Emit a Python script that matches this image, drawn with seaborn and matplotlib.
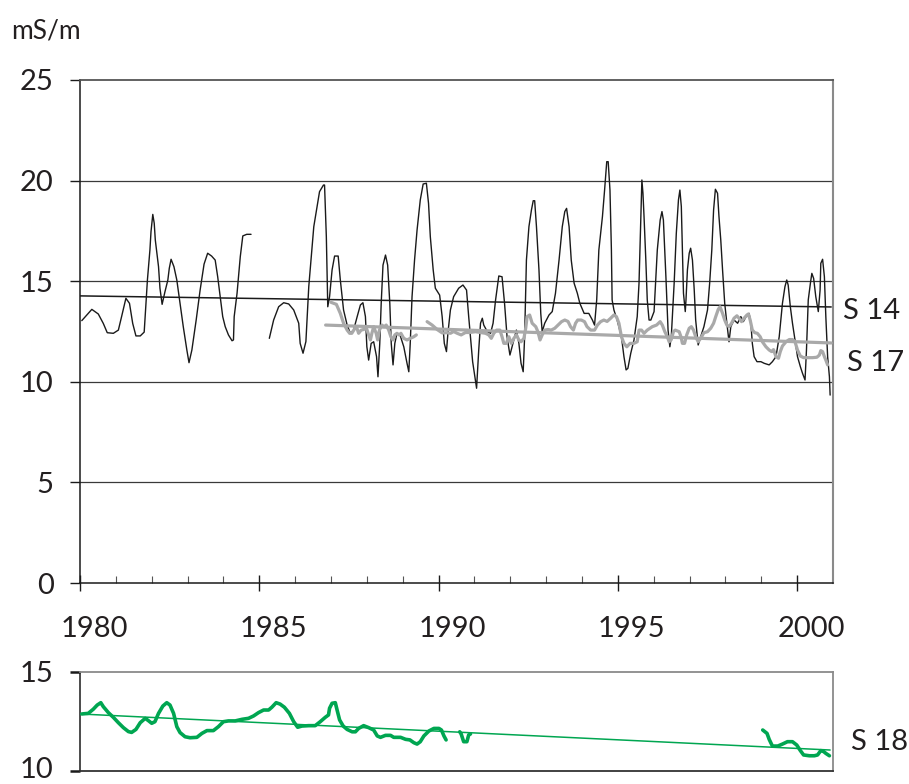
import numpy as np
import pandas as pd
import matplotlib
matplotlib.use("Agg")
import matplotlib.pyplot as plt
import matplotlib.transforms as mtransforms
import seaborn as sns

# ---------------------------------------------------------------- data
# S 14 (monthly conductivity, mS/m), two continuous stretches
s14_years_a = [1980.05, 1980.33, 1980.51, 1980.65, 1980.76, 1980.93, 1981.07, 1981.16, 1981.28, 1981.38,
               1981.47, 1981.56, 1981.68, 1981.79, 1981.84, 1981.88, 1981.95, 1981.98, 1982.03, 1982.07,
               1982.10, 1982.19, 1982.23, 1982.29, 1982.37, 1982.45, 1982.49, 1982.54, 1982.62, 1982.70,
               1982.79, 1982.88, 1982.98, 1983.04, 1983.12, 1983.24, 1983.35, 1983.46, 1983.56, 1983.67,
               1983.77, 1983.84, 1983.91, 1983.98, 1984.05, 1984.14, 1984.24, 1984.28, 1984.30, 1984.38,
               1984.47, 1984.54, 1984.65, 1984.77]
s14_values_a = [13.04, 13.60, 13.37, 12.90, 12.44, 12.41, 12.57, 13.24, 14.15, 13.90,
                12.90, 12.28, 12.28, 12.47, 13.90, 15.06, 16.55, 17.46, 18.32, 17.88,
                17.05, 15.72, 14.65, 13.85, 14.48, 15.06, 15.64, 16.09, 15.72, 15.06,
                13.90, 12.74, 11.58, 10.95, 11.58, 13.07, 14.56, 15.85, 16.39, 16.25,
                16.05, 15.22, 14.23, 13.24, 12.74, 12.33, 12.04, 12.08, 13.24, 14.40,
                16.22, 17.25, 17.33, 17.33]

s14_years_b = [1985.28, 1985.40, 1985.54, 1985.68, 1985.82, 1985.96, 1986.10, 1986.14, 1986.22, 1986.30,
               1986.38, 1986.52, 1986.68, 1986.79, 1986.82, 1986.87, 1986.91, 1986.96, 1987.03, 1987.10,
               1987.20, 1987.26, 1987.35, 1987.45, 1987.54, 1987.63, 1987.73, 1987.82, 1987.89, 1987.96,
               1988.00, 1988.05, 1988.12, 1988.19, 1988.27, 1988.31, 1988.36, 1988.40, 1988.45, 1988.52,
               1988.58, 1988.64, 1988.68, 1988.73, 1988.78, 1988.84, 1988.93, 1989.03, 1989.12, 1989.17,
               1989.21, 1989.26, 1989.33, 1989.40, 1989.49, 1989.57, 1989.66, 1989.72, 1989.77, 1989.85,
               1989.91, 1990.03, 1990.10, 1990.16, 1990.22, 1990.26, 1990.33, 1990.42, 1990.56, 1990.68,
               1990.78, 1990.84, 1990.95, 1991.06, 1991.12, 1991.17, 1991.22, 1991.26, 1991.36, 1991.45,
               1991.52, 1991.59, 1991.68, 1991.77, 1991.84, 1991.91, 1991.99, 1992.05, 1992.12, 1992.17,
               1992.24, 1992.30, 1992.36, 1992.40, 1992.45, 1992.52, 1992.59, 1992.64, 1992.68, 1992.73,
               1992.80, 1992.85, 1992.89, 1992.96, 1993.08, 1993.17, 1993.26, 1993.36, 1993.45, 1993.52,
               1993.57, 1993.64, 1993.70, 1993.78, 1993.87, 1993.94, 1994.06, 1994.19, 1994.29, 1994.35,
               1994.41, 1994.47, 1994.57, 1994.63, 1994.69, 1994.73, 1994.78, 1994.82, 1994.84, 1994.89,
               1994.98, 1995.10, 1995.17, 1995.23, 1995.28, 1995.36, 1995.45, 1995.54, 1995.59, 1995.64,
               1995.67, 1995.70, 1995.73, 1995.78, 1995.82, 1995.87, 1995.92, 1996.01, 1996.10, 1996.18,
               1996.23, 1996.27, 1996.34, 1996.40, 1996.45, 1996.49, 1996.57, 1996.63, 1996.69, 1996.73,
               1996.77, 1996.80, 1996.83, 1996.88, 1996.90, 1996.94, 1996.99, 1997.03, 1997.08, 1997.13,
               1997.17, 1997.24, 1997.31, 1997.40, 1997.50, 1997.56, 1997.62, 1997.67, 1997.72, 1997.78,
               1997.82, 1997.87, 1997.92, 1997.98, 1998.04, 1998.10, 1998.15, 1998.24, 1998.34, 1998.43,
               1998.50, 1998.60, 1998.66, 1998.71, 1998.75, 1998.80, 1998.88, 1998.99, 1999.08, 1999.22,
               1999.31, 1999.41, 1999.50, 1999.59, 1999.66, 1999.71, 1999.75, 1999.81, 1999.87, 1999.94,
               2000.01, 2000.09, 2000.15, 2000.22, 2000.26, 2000.31, 2000.37, 2000.41, 2000.46, 2000.52,
               2000.59, 2000.64, 2000.66, 2000.71, 2000.76, 2000.80, 2000.85, 2000.90, 2000.92]
s14_values_b = [12.16, 13.07, 13.73, 13.93, 13.87, 13.57, 12.91, 11.91, 11.42, 12.00,
                14.73, 17.71, 19.45, 19.78, 19.78, 17.21, 13.73, 14.23, 15.56, 16.25,
                16.25, 15.06, 13.57, 12.82, 12.41, 12.57, 13.24, 13.82, 13.93, 13.24,
                11.74, 11.08, 11.91, 11.99, 11.25, 10.25, 11.91, 13.90, 15.80, 16.30,
                15.80, 13.90, 11.91, 10.84, 11.91, 12.41, 12.30, 11.74, 10.92, 10.50,
                11.91, 14.23, 16.05, 17.54, 19.04, 19.83, 19.87, 18.87, 17.21, 15.56,
                14.65, 14.31, 13.24, 11.91, 11.50, 12.41, 13.57, 14.23, 14.65, 14.81,
                14.56, 13.24, 11.00, 9.68, 11.58, 12.91, 13.16, 12.82, 12.49, 12.41,
                12.91, 14.07, 15.26, 15.22, 13.90, 12.24, 11.33, 11.74, 12.24, 12.57,
                11.91, 10.92, 10.50, 12.24, 16.05, 17.71, 18.54, 19.00, 19.00, 17.71,
                15.56, 13.40, 12.49, 12.91, 13.32, 13.49, 14.40, 16.05, 17.71, 18.46,
                18.62, 17.71, 16.05, 14.90, 14.40, 13.90, 13.40, 13.40, 13.07, 12.82,
                14.07, 16.55, 18.21, 19.53, 20.94, 20.94, 19.53, 16.55, 14.07, 13.57,
                13.07, 12.24, 11.25, 10.59, 10.67, 11.42, 12.08, 13.24, 14.90, 18.21,
                20.03, 19.37, 18.21, 16.05, 14.07, 13.07, 13.07, 13.49, 16.55, 18.04,
                18.46, 18.04, 15.22, 12.57, 11.74, 12.24, 14.90, 17.38, 19.04, 19.53,
                18.71, 16.55, 14.40, 13.49, 14.07, 15.56, 16.39, 16.64, 16.05, 14.56,
                13.07, 11.83, 12.24, 12.74, 13.57, 14.90, 16.55, 18.54, 19.57, 19.37,
                18.21, 17.05, 15.56, 13.90, 12.91, 11.99, 12.74, 13.07, 12.91, 13.24,
                12.99, 13.32, 13.40, 12.91, 11.91, 11.25, 11.00, 11.00, 10.92, 10.84,
                11.00, 11.25, 12.24, 13.90, 14.73, 15.06, 14.81, 13.73, 12.91, 12.08,
                11.25, 10.75, 10.42, 10.09, 11.58, 14.07, 14.90, 15.39, 15.14, 14.23,
                13.49, 14.56, 15.89, 16.09, 15.22, 13.24, 11.25, 10.25, 9.34]

# S 17, two continuous stretches
s17_years_a = [1987.00, 1987.15, 1987.26, 1987.35, 1987.45, 1987.52, 1987.58, 1987.65, 1987.71, 1987.77,
               1987.84, 1987.91, 1987.99, 1988.05, 1988.10, 1988.14, 1988.19, 1988.26, 1988.30, 1988.35,
               1988.42, 1988.48, 1988.54, 1988.61, 1988.67, 1988.73, 1988.78, 1988.84, 1988.90, 1988.95,
               1989.03, 1989.12, 1989.21, 1989.31, 1989.38]
s17_values_a = [13.95, 13.85, 13.40, 12.91, 12.57, 12.41, 12.41, 12.61, 12.74, 12.41,
                12.57, 12.60, 12.66, 12.33, 12.08, 12.41, 12.74, 12.41, 12.08, 12.57,
                12.82, 12.74, 12.82, 12.57, 12.24, 12.08, 12.33, 12.41, 12.33, 12.41,
                12.16, 12.08, 12.16, 12.24, 12.33]

s17_years_b = [1989.68, 1989.82, 1989.96, 1990.10, 1990.24, 1990.33, 1990.42, 1990.52, 1990.63, 1990.75,
               1990.86, 1991.03, 1991.17, 1991.31, 1991.40, 1991.47, 1991.54, 1991.62, 1991.71, 1991.77,
               1991.82, 1991.89, 1991.96, 1992.03, 1992.10, 1992.17, 1992.24, 1992.30, 1992.38, 1992.43,
               1992.47, 1992.54, 1992.61, 1992.71, 1992.77, 1992.83, 1992.89, 1992.96, 1993.05, 1993.14,
               1993.24, 1993.33, 1993.43, 1993.52, 1993.61, 1993.68, 1993.76, 1993.82, 1993.88, 1993.98,
               1994.07, 1994.14, 1994.24, 1994.35, 1994.43, 1994.52, 1994.61, 1994.70, 1994.80, 1994.89,
               1994.96, 1995.03, 1995.10, 1995.17, 1995.25, 1995.34, 1995.45, 1995.54, 1995.59, 1995.66,
               1995.73, 1995.82, 1995.96, 1996.08, 1996.18, 1996.24, 1996.31, 1996.38, 1996.43, 1996.49,
               1996.55, 1996.60, 1996.71, 1996.76, 1996.80, 1996.86, 1996.92, 1996.99, 1997.05, 1997.11,
               1997.17, 1997.24, 1997.31, 1997.40, 1997.50, 1997.59, 1997.67, 1997.73, 1997.80, 1997.85,
               1997.92, 1997.98, 1998.04, 1998.10, 1998.17, 1998.24, 1998.32, 1998.38, 1998.45, 1998.52,
               1998.60, 1998.64, 1998.69, 1998.75, 1998.82, 1998.89, 1998.97, 1999.03, 1999.13, 1999.22,
               1999.29, 1999.34, 1999.41, 1999.48, 1999.53, 1999.59, 1999.69, 1999.78, 1999.87, 1999.94,
               2000.01, 2000.09, 2000.18, 2000.29, 2000.43, 2000.55, 2000.62, 2000.66, 2000.71, 2000.76,
               2000.80, 2000.85]
s17_values_b = [12.99, 12.82, 12.60, 12.43, 12.44, 12.41, 12.50, 12.41, 12.33, 12.45,
                12.45, 12.49, 12.45, 12.41, 12.33, 12.16, 12.41, 12.57, 12.57, 12.24,
                11.91, 11.91, 12.24, 11.91, 12.16, 12.33, 12.08, 11.99, 12.16, 12.66,
                13.24, 13.32, 12.91, 12.74, 12.49, 12.08, 12.33, 12.57, 12.60, 12.57,
                12.66, 12.82, 12.99, 13.07, 13.00, 12.74, 12.57, 12.91, 13.07, 13.07,
                12.99, 12.74, 12.57, 12.57, 12.82, 12.99, 13.07, 13.00, 13.16, 13.32,
                13.24, 12.91, 12.24, 11.91, 11.74, 11.91, 11.91, 11.99, 12.57, 12.57,
                12.41, 12.57, 12.74, 12.82, 12.99, 12.82, 12.49, 12.24, 11.99, 12.10,
                12.49, 12.57, 12.49, 12.24, 11.91, 11.91, 12.33, 12.66, 12.74, 12.57,
                12.24, 11.99, 12.16, 12.44, 12.49, 12.66, 12.91, 13.24, 13.60, 13.73,
                13.40, 13.07, 12.82, 12.74, 12.91, 13.16, 13.28, 13.16, 12.99, 13.16,
                13.32, 13.37, 13.07, 12.57, 12.44, 12.41, 12.24, 11.99, 11.74, 11.58,
                11.50, 11.60, 11.25, 11.17, 11.50, 11.78, 11.99, 12.10, 12.10, 11.99,
                11.58, 11.28, 11.20, 11.20, 11.20, 11.22, 11.33, 11.55, 11.50, 11.25,
                11.08, 10.84]

# S 18, three stretches
s18_years_a = [1980.05, 1980.23, 1980.37, 1980.48, 1980.58, 1980.65, 1980.79, 1980.93, 1981.07, 1981.21,
               1981.35, 1981.44, 1981.56, 1981.68, 1981.82, 1981.91, 1982.00, 1982.09, 1982.19, 1982.31,
               1982.42, 1982.51, 1982.61, 1982.70, 1982.79, 1982.93, 1983.07, 1983.26, 1983.40, 1983.54,
               1983.72, 1983.86, 1984.00, 1984.14, 1984.33, 1984.52, 1984.70, 1984.84, 1984.98, 1985.12,
               1985.26, 1985.35, 1985.47, 1985.58, 1985.70, 1985.84, 1985.96, 1986.07, 1986.19, 1986.38,
               1986.56, 1986.70, 1986.84, 1986.93, 1986.96, 1987.03, 1987.12, 1987.17, 1987.24, 1987.34,
               1987.45, 1987.59, 1987.68, 1987.77, 1987.91, 1988.05, 1988.19, 1988.29, 1988.38, 1988.52,
               1988.66, 1988.75, 1988.94, 1989.08, 1989.20, 1989.31, 1989.40, 1989.49, 1989.59, 1989.73,
               1989.87, 1990.01, 1990.08, 1990.15, 1990.21]
s18_values_a = [12.88, 12.91, 13.12, 13.33, 13.45, 13.25, 12.95, 12.71, 12.44, 12.19,
                11.99, 11.95, 12.10, 12.44, 12.66, 12.54, 12.41, 12.49, 12.91, 13.28,
                13.45, 13.33, 12.91, 12.24, 11.94, 11.73, 11.68, 11.70, 11.90, 12.04,
                12.04, 12.24, 12.49, 12.53, 12.53, 12.61, 12.66, 12.78, 12.95, 13.08,
                13.08, 13.22, 13.45, 13.38, 13.22, 12.91, 12.49, 12.21, 12.27, 12.29,
                12.29, 12.49, 12.71, 12.83, 13.17, 13.42, 13.45, 13.08, 12.58, 12.27,
                12.10, 11.98, 11.98, 12.15, 12.29, 12.19, 12.07, 11.77, 11.70, 11.80,
                11.80, 11.70, 11.70, 11.60, 11.57, 11.43, 11.36, 11.48, 11.77, 12.02,
                12.15, 12.15, 12.07, 11.77, 11.57]
s18_years_b = [1990.59, 1990.63, 1990.70, 1990.79, 1990.84, 1990.89]
s18_values_b = [11.98, 11.87, 11.48, 11.48, 11.82, 11.87]
s18_years_c = [1999.04, 1999.16, 1999.22, 1999.31, 1999.46, 1999.59, 1999.73, 1999.87, 1999.99, 2000.09,
               2000.18, 2000.34, 2000.48, 2000.57, 2000.66, 2000.74, 2000.80, 2000.90]
s18_values_c = [12.07, 11.90, 11.60, 11.26, 11.26, 11.36, 11.48, 11.48, 11.31, 11.03,
                10.81, 10.77, 10.77, 10.81, 11.03, 10.98, 10.89, 10.77]

# linear trends (start / end)
s14_trend_years = [1980.0, 2000.95]
s14_trend_values = [14.27, 13.72]
s17_trend_years = [1986.85, 2000.95]
s17_trend_values = [12.82, 11.93]
s18_trend_years = [1980.0, 2000.92]
s18_trend_values = [12.88, 11.06]

year_labels = [1980, 1985, 1990, 1995, 2000]
top_yticks = [0, 5, 10, 15, 20, 25]
bottom_yticks = [10, 15]

# ---------------------------------------------------------------- style
sns.set_style("white")
plt.rcParams["font.family"] = ["Lato", "DejaVu Sans"]
TEXT = "#231f20"
BLACK = "#1a1a1a"
GREY = "#a9a9a9"
GREEN = "#00a651"


def segments(*pairs):
    frames = []
    for k, (yrs, vals) in enumerate(pairs):
        frames.append(pd.DataFrame({"year": yrs, "value": vals, "seg": k}))
    return pd.concat(frames, ignore_index=True)


s14 = segments((s14_years_a, s14_values_a), (s14_years_b, s14_values_b))
s17 = segments((s17_years_a, s17_values_a), (s17_years_b, s17_values_b))
s18 = segments((s18_years_a, s18_values_a), (s18_years_b, s18_values_b),
               (s18_years_c, s18_values_c))

W, H = 909, 784
fig = plt.figure(figsize=(W / 100, H / 100), dpi=100)
ax = fig.add_axes([80 / W, 1 - 583 / H, 753 / W, 503 / H])
ax2 = fig.add_axes([80 / W, 1 - 771 / H, 753 / W, 99 / H])

# ---------------------------------------------------------------- top panel
for y in [5, 10, 15, 20]:
    ax.axhline(y, color="#3a3a3a", lw=0.9, zorder=1)

sns.lineplot(data=s14, x="year", y="value", units="seg", estimator=None, sort=False,
             color=BLACK, lw=1.0, ax=ax, zorder=3)
sns.lineplot(x=s14_trend_years, y=s14_trend_values, color=BLACK, lw=1.1, ax=ax, zorder=3)
sns.lineplot(data=s17, x="year", y="value", units="seg", estimator=None, sort=False,
             color=GREY, lw=2.3, ax=ax, zorder=4)
sns.lineplot(x=s17_trend_years, y=s17_trend_values, color=GREY, lw=2.3, ax=ax, zorder=4)

ax.set_xlim(1980, 2001)
ax.set_ylim(0, 25)
ax.set_xlabel("")
ax.set_ylabel("")
ax.set_yticks(top_yticks)
ax.set_yticklabels([str(v) for v in top_yticks])
ax.set_xticks(year_labels)
ax.set_xticklabels([str(v) for v in year_labels])
ax.set_xticks(np.arange(1980, 2001), minor=True)
ax.tick_params(axis="y", direction="out", length=7, width=1, color=BLACK,
               labelsize=21, labelcolor=TEXT, pad=12, left=True)
ax.tick_params(axis="x", which="major", direction="inout", length=12, width=1, color=BLACK,
               labelsize=21, labelcolor=TEXT, pad=18, bottom=True)
ax.tick_params(axis="x", which="minor", direction="in", length=5, width=0.8, color="#555555",
               bottom=True)
shift = mtransforms.ScaledTranslation(0.14, 0, fig.dpi_scale_trans)
for lab in ax.get_xticklabels():
    lab.set_transform(lab.get_transform() + shift)

for side, col, lw in [("left", BLACK, 1.1), ("bottom", BLACK, 1.1),
                      ("top", "#555555", 1.3), ("right", "#8a8a8a", 1.5)]:
    ax.spines[side].set_visible(True)
    ax.spines[side].set_color(col)
    ax.spines[side].set_linewidth(lw)

ax.text(2001.27, 13.5, "S 14", fontsize=21, color=TEXT, va="center", ha="left")
ax.text(2001.4, 10.95, "S 17", fontsize=21, color=TEXT, va="center", ha="left")
fig.text(11 / W, 1 - 38 / H, "mS/m", fontsize=19, color=TEXT, va="baseline", ha="left")

# ---------------------------------------------------------------- bottom panel
sns.lineplot(data=s18, x="year", y="value", units="seg", estimator=None, sort=False,
             color=GREEN, lw=2.6, ax=ax2, zorder=3)
sns.lineplot(x=s18_trend_years, y=s18_trend_values, color=GREEN, lw=1.1, ax=ax2, zorder=3)

ax2.set_xlim(1980, 2001)
ax2.set_ylim(10, 15)
ax2.set_xlabel("")
ax2.set_ylabel("")
ax2.set_xticks([])
ax2.set_yticks(bottom_yticks)
ax2.set_yticklabels([str(v) for v in bottom_yticks])
ax2.tick_params(axis="y", direction="out", length=7, width=1.8, color=BLACK,
                labelsize=21, labelcolor=TEXT, pad=12, left=True)
# keep the lowest label inside the canvas
lift = mtransforms.ScaledTranslation(0, 0.04, fig.dpi_scale_trans)
ax2.get_yticklabels()[0].set_transform(ax2.get_yticklabels()[0].get_transform() + lift)
for side, col, lw in [("left", BLACK, 1.1), ("bottom", "#333333", 1.3),
                      ("top", "#8a8a8a", 1.3), ("right", "#8a8a8a", 1.3)]:
    ax2.spines[side].set_visible(True)
    ax2.spines[side].set_color(col)
    ax2.spines[side].set_linewidth(lw)

ax2.text(2001.5, 11.45, "S 18", fontsize=21, color=TEXT, va="center", ha="left")

fig.savefig("out.png", dpi=100)
